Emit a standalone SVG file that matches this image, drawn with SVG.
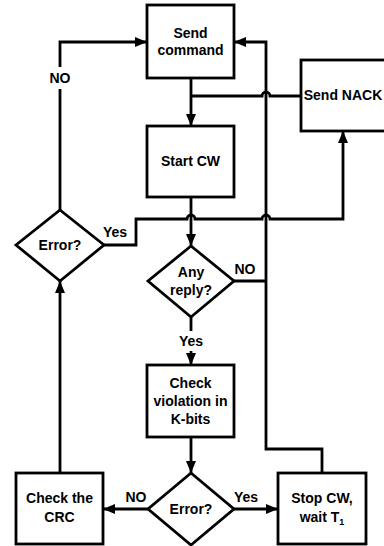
<svg xmlns="http://www.w3.org/2000/svg" width="384" height="546" viewBox="0 0 384 546">
<style>
.box{fill:#fff;stroke:#000;stroke-width:2.8}
.ln{fill:none;stroke:#000;stroke-width:2.8}
.t{font-family:"Liberation Sans",Arial,sans-serif;font-weight:bold;font-size:14px;text-anchor:middle;fill:#000}
</style>
<defs>
<marker id="ah" markerUnits="userSpaceOnUse" markerWidth="12" markerHeight="10" refX="12" refY="5" orient="auto">
<path d="M0,0 L12,5 L0,10 z" fill="#000"/>
</marker>
</defs>
<g id="connectors">
<path class="ln" d="M191 78 L191 126" marker-end="url(#ah)"/>
<path class="ln" d="M301 96 L270 96 A4 4 0 0 0 262 96 L191 96"/>
<path class="ln" d="M191 197 L191 246" marker-end="url(#ah)"/>
<path class="ln" d="M101 245 L136 245 L136 219 L187 219 A4 4 0 0 1 195 219 L262 219 A4 4 0 0 1 270 219 L343 219 L343 131" marker-end="url(#ah)"/>
<path class="ln" d="M233 281 L266 281"/>
<path class="ln" d="M322 473 L322 449 L266 449 L266 42 L234 42" marker-end="url(#ah)"/>
<path class="ln" d="M191 317 L191 331"/>
<path class="ln" d="M191 351 L191 365" marker-end="url(#ah)"/>
<path class="ln" d="M191 437 L191 473" marker-end="url(#ah)"/>
<path class="ln" d="M148 509 L103 509" marker-end="url(#ah)"/>
<path class="ln" d="M233 509 L278 509" marker-end="url(#ah)"/>
<path class="ln" d="M60 473 L60 281" marker-end="url(#ah)"/>
<path class="ln" d="M60 210 L60 89"/>
<path class="ln" d="M60 67 L60 42 L147 42" marker-end="url(#ah)"/>
<text class="t" x="60" y="83">NO</text>
<text class="t" x="115" y="237">Yes</text>
<text class="t" x="245" y="274">NO</text>
<text class="t" x="191" y="346">Yes</text>
<text class="t" x="136" y="502">NO</text>
<text class="t" x="246" y="502">Yes</text>
</g>
<g id="send-command">
<rect class="box" x="147" y="5" width="87" height="73"/>
<text class="t" x="190.5" y="38">Send</text>
<text class="t" x="190.5" y="55">command</text>
</g>
<g id="send-nack">
<rect class="box" x="301" y="60" width="90" height="71"/>
<text class="t" x="343" y="100">Send NACK</text>
</g>
<g id="start-cw">
<rect class="box" x="147" y="126" width="87" height="71"/>
<text class="t" x="190.5" y="166">Start CW</text>
</g>
<g id="error-left">
<polygon class="box" points="60,210 104,245 60,281 16,245"/>
<text class="t" x="60" y="250">Error?</text>
</g>
<g id="any-reply">
<polygon class="box" points="191,246 234,281 191,317 148,281"/>
<text class="t" x="191" y="277">Any</text>
<text class="t" x="191" y="295">reply?</text>
</g>
<g id="check-violation">
<rect class="box" x="147" y="365" width="87" height="72"/>
<text class="t" x="190.5" y="388">Check</text>
<text class="t" x="190.5" y="406">violation in</text>
<text class="t" x="190.5" y="424">K-bits</text>
</g>
<g id="error-bottom">
<polygon class="box" points="191,473 234,509 191,545 148,509"/>
<text class="t" x="191" y="514">Error?</text>
</g>
<g id="check-crc">
<rect class="box" x="16" y="473" width="87" height="71"/>
<text class="t" x="59.5" y="503">Check the</text>
<text class="t" x="59.5" y="522">CRC</text>
</g>
<g id="stop-cw">
<rect class="box" x="278" y="473" width="88" height="71"/>
<text class="t" x="322" y="503">Stop CW,</text>
<text class="t" x="322" y="522">wait T<tspan font-size="9" dy="3">1</tspan></text>
</g>
</svg>
